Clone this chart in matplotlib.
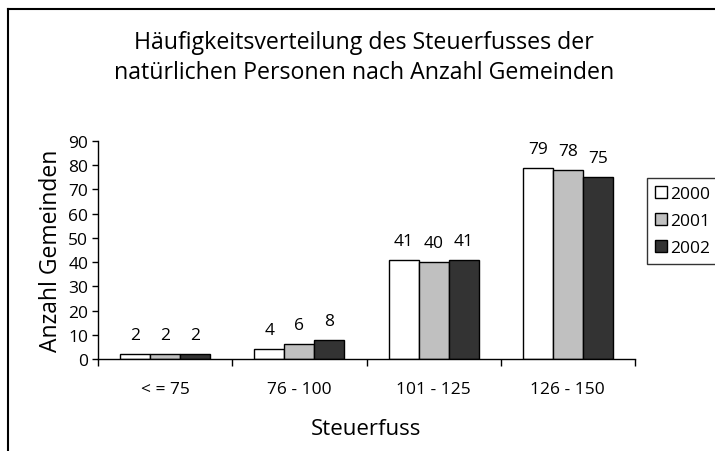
import matplotlib
matplotlib.use("Agg")
import matplotlib.pyplot as plt
import numpy as np
from matplotlib.lines import Line2D

plt.rcParams['font.family'] = ['Open Sans', 'DejaVu Sans']

categories = ["< = 75", "76 - 100", "101 - 125", "126 - 150"]
years = ["2000", "2001", "2002"]
v2000 = [2, 4, 41, 79]
v2001 = [2, 6, 40, 78]
v2002 = [2, 8, 41, 75]
series = [v2000, v2001, v2002]
colors = ["#FFFFFF", "#C0C0C0", "#333333"]
yticks = [0, 10, 20, 30, 40, 50, 60, 70, 80, 90]

W, H = 715, 452
fig = plt.figure(figsize=(W / 100, H / 100), dpi=100)

# outer frame
fig.add_artist(Line2D([8 / W, 8 / W], [0, 1 - 10 / H], color="black", lw=1.5, transform=fig.transFigure))
fig.add_artist(Line2D([8 / W, 1], [1 - 10 / H, 1 - 10 / H], color="black", lw=1.5, transform=fig.transFigure))

ax = fig.add_axes([98 / W, (H - 360) / H, (635 - 98) / W, (360 - 142) / H])

x = np.arange(len(categories))
bw = 0.2233
for i, (vals, c) in enumerate(zip(series, colors)):
    pos = x + (i - 1) * bw
    ax.bar(pos, vals, width=bw, color=c, edgecolor="black", linewidth=1.0, label=years[i])
    for p, v in zip(pos, vals):
        ax.annotate(str(v), (p, v), xytext=(0, 8), textcoords="offset points",
                    ha="center", va="bottom", fontsize=12.5)

ax.set_xlim(-0.5, len(categories) - 0.5)
ax.set_ylim(0, 90)
ax.set_yticks(yticks)
ax.tick_params(axis="y", labelsize=12.5, length=4, width=1, direction="out", pad=3)
ax.set_xticks(x)
ax.set_xticklabels(categories)
ax.tick_params(axis="x", which="major", length=0, labelsize=12.5, pad=16)
ax.set_xticks(np.arange(-0.5, len(categories)), minor=True)
ax.tick_params(axis="x", which="minor", length=5, width=1, direction="out")
for s in ["top", "right"]:
    ax.spines[s].set_visible(False)
for s in ["left", "bottom"]:
    ax.spines[s].set_linewidth(1.0)

ax.set_ylabel("Anzahl Gemeinden", fontsize=16.5, labelpad=4)
ax.set_xlabel("Steuerfuss", fontsize=16, labelpad=15)

fig.text(364 / W, 1 - 58 / H, "Häufigkeitsverteilung des Steuerfusses der\nnatürlichen Personen nach Anzahl Gemeinden",
         ha="center", va="center", fontsize=16.7, linespacing=1.3)

leg = ax.legend(loc="upper left", bbox_to_anchor=(647 / W, 1 - 179 / H), bbox_transform=fig.transFigure,
                fontsize=12.5, frameon=True, fancybox=False, edgecolor="black",
                handlelength=0.7, handleheight=0.7, handletextpad=0.2, borderpad=0.45,
                labelspacing=0.62, borderaxespad=0)
leg.get_frame().set_linewidth(1.0)

fig.savefig("out.png", dpi=100)
